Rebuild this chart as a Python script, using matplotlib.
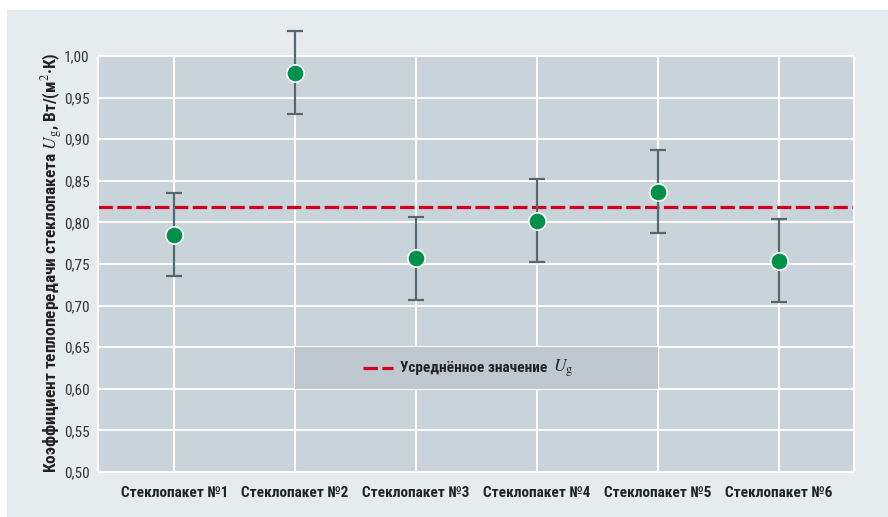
import matplotlib
matplotlib.use('Agg')
import matplotlib.pyplot as plt
from matplotlib import font_manager
from matplotlib.patches import Rectangle

# heat transfer coefficient per glazing unit, W/(m2*K)
units = ['Стеклопакет №1', 'Стеклопакет №2', 'Стеклопакет №3',
         'Стеклопакет №4', 'Стеклопакет №5', 'Стеклопакет №6']
ug_values = [0.785, 0.980, 0.757, 0.802, 0.837, 0.754]
ug_errors = [0.05, 0.05, 0.05, 0.05, 0.05, 0.05]
ug_mean = 0.819
y_ticks = [0.50, 0.55, 0.60, 0.65, 0.70, 0.75, 0.80, 0.85, 0.90, 0.95, 1.00]


def has_glyphs(path, chars):
    try:
        cmap = font_manager.get_font(path).get_charmap()
    except Exception:
        return False
    return all(ord(c) in cmap for c in chars)


# pick a condensed face that covers Cyrillic, fall back to plain sans
narrow_stretches = ('condensed', 'semi-condensed', 'extra-condensed',
                    'ultra-condensed', 500, 600, 700)
cands = []
for f in font_manager.fontManager.ttflist:
    narrowish = ('Narrow' in f.name or 'Condensed' in f.name
                 or f.stretch in narrow_stretches)
    if narrowish and has_glyphs(f.fname, 'КкЭ№'):
        cands.append(f)
prefer = ['Roboto Condensed', 'Liberation Sans Narrow', 'Open Sans Condensed',
          'Noto Sans', 'DejaVu Sans']
cands.sort(key=lambda f: prefer.index(f.name) if f.name in prefer else 99)
if cands:
    font_name, font_stretch = cands[0].name, cands[0].stretch
else:
    font_name, font_stretch = 'Roboto', 'normal'
family = [font_name, 'DejaVu Sans']
plt.rcParams['mathtext.fontset'] = 'stix'

fig = plt.figure(figsize=(8.88, 5.17), dpi=100)
fig.patch.set_facecolor('white')
fig.add_artist(Rectangle((7 / 888, 0), 1, (517 - 10) / 517,
                         transform=fig.transFigure, facecolor='#e6ebee',
                         edgecolor='none', zorder=-10))

ax = fig.add_axes([98 / 888, 1 - 472 / 517, (854 - 98) / 888, (472 - 56) / 517])
ax.set_facecolor('#c9d3da')
x = list(range(1, len(units) + 1))

ax.set_xlim(0.37, 6.62)
ax.set_ylim(0.5, 1.0)
ax.set_yticks(y_ticks)
ax.set_yticklabels([f'{v:.2f}'.replace('.', ',') for v in y_ticks],
                   family=family, stretch=font_stretch, fontsize=11,
                   color='#333333')
ax.set_xticks(x)
ax.set_xticklabels(units, family=family, stretch=font_stretch, fontsize=11,
                   fontweight='bold', color='#222222')
ax.tick_params(length=0)
ax.tick_params(axis='y', pad=6)
ax.tick_params(axis='x', pad=10)
ax.grid(True, color='white', linewidth=1.5)
ax.set_axisbelow(True)
for s in ax.spines.values():
    s.set_color('white')
    s.set_linewidth(1.5)

# legend box spanning between the 2nd and 5th units
ax.add_patch(Rectangle((2, 0.60), 3, 0.05, facecolor='#c0c8cf',
                       edgecolor='none', zorder=1.5))

ax.axhline(ug_mean, color='#d0021b', linewidth=2.3, dashes=(4.5, 1.4), zorder=2)

ax.errorbar(x, ug_values, yerr=ug_errors, fmt='none', ecolor='#556872',
            elinewidth=1.6, capsize=6, capthick=1.6, zorder=3, clip_on=False)
ax.plot(x, ug_values, 'o', color='#00904a', markersize=12.5,
        markeredgecolor='white', markeredgewidth=1.2, zorder=4, clip_on=False)

# legend entry
ax.plot([2.56, 2.81], [0.625, 0.625], color='#d0021b', linewidth=2.3,
        dashes=(4.5, 1.4), zorder=2)
lbl = ax.text(2.87, 0.625, 'Усреднённое значение', family=family,
              stretch=font_stretch, fontsize=11, fontweight='bold',
              color='#222222', va='center', ha='left')
fig.canvas.draw()
bb = lbl.get_window_extent().transformed(ax.transData.inverted())
ax.text(bb.x1 + 0.04, 0.6245, r'$U_\mathrm{g}$', fontsize=12.5, color='#222222',
        va='center', ha='left')

fig.text(52 / 888, 1 - 263 / 517,
         r'Коэффициент теплопередачи стеклопакета $U_\mathrm{g}$, Вт/(м$^2$·К)',
         rotation=90, ha='center', va='center', family=family,
         stretch=font_stretch, fontsize=12.5, fontweight='bold', color='#222222')

fig.savefig('out.png', dpi=100)
